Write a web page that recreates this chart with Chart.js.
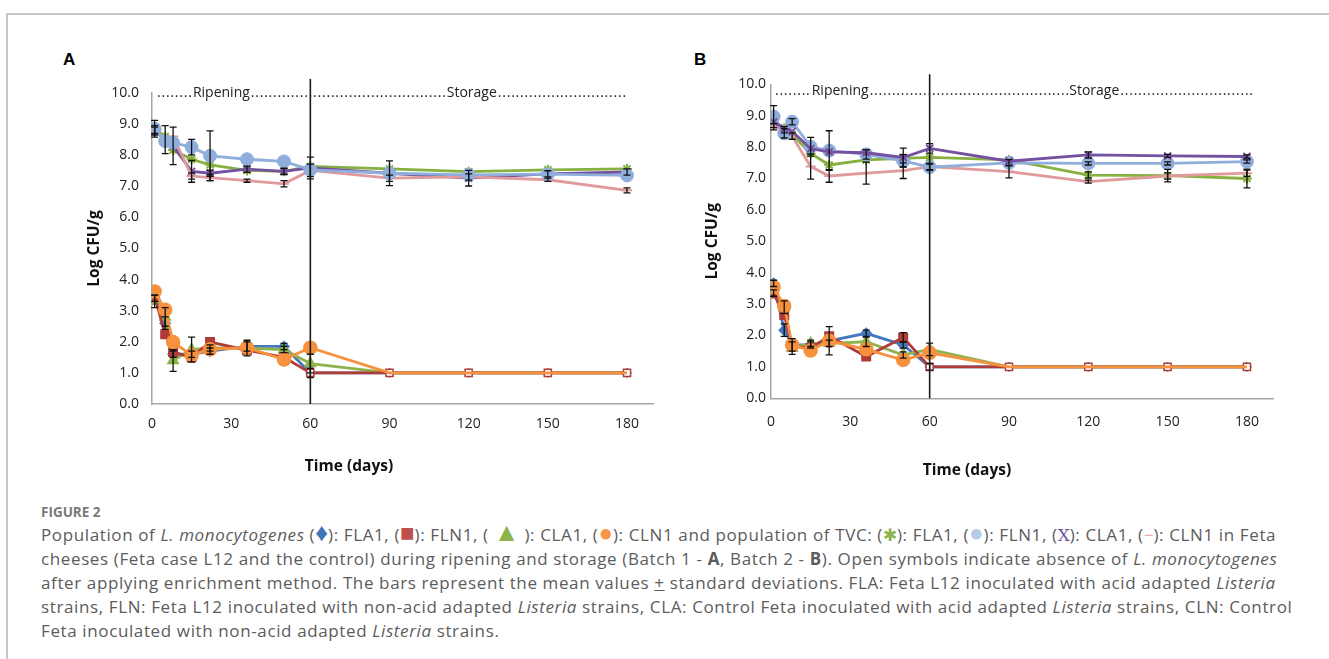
<!DOCTYPE html>
<html>
<head>
<meta charset="utf-8">
<script src="https://cdn.jsdelivr.net/npm/chart.js@4.4.1/dist/chart.umd.min.js"></script>
<style>
  body { margin: 0; background: #fff; width: 1329px; height: 659px; overflow: hidden; position: relative; }
  .frame { position: absolute; left: 6px; top: 13px; right: 0; bottom: 0; border-left: 2px solid #c6c6c6; border-top: 2px solid #c6c6c6; }
  .panel { position: absolute; top: 0; }
  .tag { position: absolute; top: 50px; font: bold 17px "Liberation Sans", Arial, sans-serif; color: #000; }
  .fig { position: absolute; left: 41px; top: 503px; font: bold 13.5px "Open Sans", sans-serif; color: #7a7a7a; }
  .caption { position: absolute; left: 41px; top: 523px; font: 17px "Open Sans", sans-serif; letter-spacing: 0.62px; color: #5c5c5c; line-height: 24px; white-space: nowrap; }
  .caption span { display: inline-block; line-height: 10px; letter-spacing: 0; }
  .s-blue { color: #3f74b9; font-size: 25px; }
  .s-red { color: #c0504d; font-size: 24px; }
  .s-green { color: #8db44c; font-size: 26px; }
  .s-orange { color: #f79646; font-size: 24px; }
  .s-lgreen { color: #8db44c; }
  .s-lblue { color: #b5cbe9; font-size: 24px; }
  .s-purple { color: #7451a0; font-family: "DejaVu Serif", serif; }
  .s-pink { color: #e6a0a0; }
</style>
</head>
<body>
<div class="frame"></div>
<div class="tag" style="left:63px">A</div>
<div class="tag" style="left:694px">B</div>
<div class="panel" style="left:0"><canvas id="chartA" width="680" height="500"></canvas></div>
<div class="panel" style="left:680px"><canvas id="chartB" width="649" height="500"></canvas></div>
<div class="fig">FIGURE 2</div>
<div class="caption">
Population of <i>L. monocytogenes</i> (<span class="s-blue">&#9830;</span>): FLA1, (<span class="s-red">&#9632;</span>): FLN1, ( <span class="s-green">&#9650;</span> ): CLA1, (<span class="s-orange">&#9679;</span>): CLN1 and population of TVC: (<span class="s-lgreen">&#10033;</span>): FLA1, (<span class="s-lblue">&#9679;</span>): FLN1, (<span class="s-purple">X</span>): CLA1, (<span class="s-pink">&#8722;</span>): CLN1 in Feta<br>
cheeses (Feta case L12 and the control) during ripening and storage (Batch 1 - <b>A</b>, Batch 2 - <b>B</b>). Open symbols indicate absence of <i>L. monocytogenes</i><br>
after applying enrichment method. The bars represent the mean values <u>+</u> standard deviations. FLA: Feta L12 inoculated with acid adapted <i>Listeria</i><br>
strains, FLN: Feta L12 inoculated with non-acid adapted <i>Listeria</i> strains, CLA: Control Feta inoculated with acid adapted <i>Listeria</i> strains, CLN: Control<br>
Feta inoculated with non-acid adapted <i>Listeria</i> strains.
</div>
<script>
// sampling days (x values)
const days = [1, 5, 8, 15, 22, 36, 50, 60, 90, 120, 150, 180];
const xTicks = [0, 30, 60, 90, 120, 150, 180];
const yTicks = [0, 1, 2, 3, 4, 5, 6, 7, 8, 9, 10];

// Batch 1 (A) - L. monocytogenes
const lmFLA1_A = [3.40, 2.60, 1.60, 1.60, 1.70, 1.85, 1.85, 1.00, 1.00, 1.00, 1.00, 1.00];
const lmFLN1_A = [3.45, 2.24, 1.67, 1.50, 1.99, 1.73, 1.50, 1.00, 1.00, 1.00, 1.00, 1.00];
const lmCLA1_A = [3.30, 2.80, 1.40, 1.75, 1.80, 1.80, 1.75, 1.30, 1.00, 1.00, 1.00, 1.00];
const lmCLN1_A = [3.62, 3.03, 1.99, 1.57, 1.76, 1.81, 1.43, 1.81, 1.00, 1.00, 1.00, 1.00];
// Batch 1 (A) - TVC
const tvcFLA1_A = [8.85, 8.60, 8.17, 7.87, 7.69, 7.51, 7.48, 7.64, 7.56, 7.47, 7.53, 7.56];
const tvcFLN1_A = [8.85, 8.45, 8.40, 8.26, 7.98, 7.87, 7.80, 7.53, 7.42, 7.37, 7.39, 7.35];
const tvcCLA1_A = [8.80, 8.50, 8.30, 7.48, 7.42, 7.55, 7.48, 7.59, 7.42, 7.26, 7.40, 7.46];
const tvcCLN1_A = [8.80, 8.50, 8.60, 7.33, 7.28, 7.18, 7.08, 7.51, 7.26, 7.30, 7.21, 6.87];

// Batch 2 (B) - L. monocytogenes
const lmFLA1_B = [3.66, 2.17, 1.70, 1.70, 1.83, 2.07, 1.70, 1.00, 1.00, 1.00, 1.00, 1.00];
const lmFLN1_B = [3.34, 2.65, 1.66, 1.60, 1.98, 1.33, 1.94, 1.00, 1.00, 1.00, 1.00, 1.00];
const lmCLA1_B = [3.35, 2.90, 1.60, 1.75, 1.75, 1.80, 1.38, 1.56, 1.00, 1.00, 1.00, 1.00];
const lmCLN1_B = [3.54, 2.94, 1.70, 1.52, 1.83, 1.56, 1.22, 1.45, 1.00, 1.00, 1.00, 1.00];
// Batch 2 (B) - TVC
const tvcFLA1_B = [8.80, 8.60, 8.40, 7.80, 7.43, 7.59, 7.64, 7.67, 7.59, 7.11, 7.09, 7.00];
const tvcFLN1_B = [8.97, 8.44, 8.81, 8.01, 7.89, 7.77, 7.56, 7.36, 7.50, 7.48, 7.48, 7.54];
const tvcCLA1_B = [8.80, 8.60, 8.50, 7.95, 7.85, 7.82, 7.67, 7.96, 7.55, 7.75, 7.72, 7.70];
const tvcCLN1_B = [8.65, 8.55, 8.35, 7.38, 7.08, 7.17, 7.25, 7.38, 7.22, 6.90, 7.08, 7.17];

// standard deviations (0 = no bar visible)
const sdLmFLA1_A = [0.10, 0.20, 0.10, 0.10, 0.10, 0.15, 0.10, 0.15, 0, 0, 0, 0];
const sdLmCLA1_A = [0.20, 0.30, 0.35, 0.40, 0.10, 0.25, 0.10, 0.30, 0, 0, 0, 0];
const sdTvcFLN1_A = [0.27, 0, 0, 0.25, 0.80, 0, 0, 0, 0, 0, 0, 0];
const sdTvcCLA1_A = [0.15, 0.45, 0.60, 0.35, 0.10, 0.10, 0.10, 0.35, 0.40, 0.25, 0.10, 0.10];
const sdTvcCLN1_A = [0.10, 0, 0, 0.10, 0.10, 0.05, 0.10, 0.20, 0.10, 0.10, 0.05, 0.08];

const sdLmFLA1_B = [0.10, 0.20, 0.20, 0.10, 0.45, 0.10, 0.10, 0.10, 0, 0, 0, 0];
const sdLmCLA1_B = [0.10, 0.20, 0.20, 0.10, 0.10, 0.15, 0.10, 0.20, 0, 0, 0, 0];
const sdLmFLN1_B = [0, 0, 0, 0, 0, 0, 0.15, 0, 0, 0, 0, 0];
const sdTvcFLN1_B = [0.35, 0.15, 0.10, 0.30, 0.63, 0.15, 0.20, 0.10, 0.10, 0.05, 0.05, 0.05];
const sdTvcCLN1_B = [0.10, 0.10, 0.10, 0.40, 0.20, 0.35, 0.25, 0.10, 0.20, 0.05, 0.10, 0.10];
const sdTvcFLA1_B = [0, 0, 0, 0, 0, 0, 0, 0, 0, 0.10, 0.20, 0.30];
const sdTvcCLA1_B = [0, 0, 0, 0, 0, 0, 0.30, 0.15, 0, 0.10, 0.05, 0.05];

const pts = (vals) => days.map((d, i) => ({ x: d, y: vals[i] }));

// black "I" error bars, drawn through the y scale
const errorBars = {
    id: 'errorBars',
    afterDatasetsDraw(chart) {
        const { ctx } = chart;
        const yScale = chart.scales.y;
        ctx.save();
        ctx.strokeStyle = '#111';
        ctx.lineWidth = 1.3;
        chart.data.datasets.forEach((ds, i) => {
            if (!ds.errors) return;
            chart.getDatasetMeta(i).data.forEach((pt, j) => {
                const e = ds.errors[j];
                if (!e) return;
                const v = ds.data[j].y;
                const top = yScale.getPixelForValue(v + e);
                const bot = yScale.getPixelForValue(v - e);
                ctx.beginPath();
                ctx.moveTo(pt.x, top); ctx.lineTo(pt.x, bot);
                ctx.moveTo(pt.x - 3.5, top); ctx.lineTo(pt.x + 3.5, top);
                ctx.moveTo(pt.x - 3.5, bot); ctx.lineTo(pt.x + 3.5, bot);
                ctx.stroke();
            });
        });
        ctx.restore();
    }
};

// day-60 line, phase labels and axis titles
const panelText = {
    id: 'panelText',
    afterDraw(chart, args, opts) {
        const { ctx, chartArea } = chart;
        const x = chart.scales.x, y = chart.scales.y;
        ctx.save();

        // end of ripening
        const x60 = x.getPixelForValue(60);
        ctx.strokeStyle = '#1a1a1a';
        ctx.lineWidth = 1.6;
        ctx.beginPath();
        ctx.moveTo(x60, chartArea.top - opts.lineAbove);
        ctx.lineTo(x60, chartArea.bottom);
        ctx.stroke();

        // ........Ripening..........Storage..........
        ctx.fillStyle = '#222';
        ctx.font = '14px "Open Sans", sans-serif';
        ctx.textBaseline = 'middle';
        ctx.textAlign = 'left';
        const ty = y.getPixelForValue(opts.phaseY);
        const start = x.getPixelForValue(opts.phase[0]);
        const rip = x.getPixelForValue(opts.phase[1]);
        const sto = x.getPixelForValue(opts.phase[2]);
        const end = x.getPixelForValue(opts.phase[3]);
        const dots = (a, b) => {
            for (let px = a; px <= b - 2; px += 4.45) ctx.fillText('.', px, ty);
        };
        const ripW = ctx.measureText('Ripening').width;
        const stoW = ctx.measureText('Storage').width;
        dots(start, rip - 1);
        ctx.fillText('Ripening', rip, ty);
        dots(rip + ripW + 1, sto - 1);
        ctx.fillText('Storage', sto, ty);
        dots(sto + stoW + 1, end);

        // axis titles
        ctx.fillStyle = '#111';
        ctx.font = 'bold 15.5px "Open Sans", sans-serif';
        ctx.textAlign = 'center';
        ctx.fillText('Time (days)', chartArea.left + opts.xTitleDx, chartArea.bottom + opts.xTitleDy);
        ctx.translate(chartArea.left - opts.yTitleDx, (chartArea.top + chartArea.bottom) / 2);
        ctx.rotate(-Math.PI / 2);
        ctx.fillText('Log CFU/g', 0, 0);
        ctx.restore();
    }
};

function lmSet(label, vals, sd, color, style, radius, order, openFrom, hideFrom, openRadius) {
    return {
        label, data: pts(vals), errors: sd, order,
        borderColor: color, borderWidth: 2.8,
        pointStyle: style,
        pointRadius: days.map((d, i) => (hideFrom !== null && i >= hideFrom) ? 0 : (i >= openFrom ? openRadius : radius)),
        pointBackgroundColor: days.map((d, i) => i >= openFrom ? '#ffffff' : color),
        pointBorderColor: color, pointBorderWidth: 1.5,
        tension: 0
    };
}

function tvcSet(label, vals, sd, color, style, radius, order) {
    return {
        label, data: pts(vals), errors: sd, order,
        borderColor: color, backgroundColor: color, borderWidth: 2.8,
        pointStyle: style, pointRadius: radius,
        pointBorderColor: color, pointBorderWidth: style === 'circle' ? 1 : 2,
        tension: 0
    };
}

function buildChart(canvasId, sets, pad, tickPadX, tickPadY, textOpts) {
    return new Chart(document.getElementById(canvasId), {
        type: 'line',
        data: { datasets: sets },
        options: {
            responsive: false,
            animation: false,
            layout: { padding: pad },
            plugins: { legend: { display: false }, tooltip: { enabled: false }, panelText: textOpts },
            scales: {
                x: {
                    type: 'linear', min: 0, max: 190,
                    afterFit: (s) => { s.height = 30; },
                    afterBuildTicks: (s) => { s.ticks = xTicks.map(v => ({ value: v })); },
                    grid: { display: false, drawTicks: false },
                    border: { display: true, color: '#a6a6a6', width: 1.5 },
                    ticks: { padding: tickPadX, color: '#222', font: { family: 'Open Sans', size: 14 } }
                },
                y: {
                    min: 0, max: 10,
                    afterFit: (s) => { s.width = 40; },
                    afterBuildTicks: (s) => { s.ticks = yTicks.map(v => ({ value: v })); },
                    grid: { display: false, drawTicks: false },
                    border: { display: true, color: '#a6a6a6', width: 1.5 },
                    ticks: { padding: tickPadY, color: '#222', font: { family: 'Open Sans', size: 14 },
                             callback: (v) => Number(v).toFixed(1) }
                }
            }
        },
        plugins: [errorBars, panelText]
    });
}

const setsA = [
    lmSet('FLA1', lmFLA1_A, sdLmFLA1_A, '#4477c0', 'rectRot', 5, 4, 7, null, 4),
    lmSet('FLN1', lmFLN1_A, null, '#b03c3a', 'rect', 6, 2, 7, null, 5),
    lmSet('CLA1', lmCLA1_A, sdLmCLA1_A, '#8db44c', 'triangle', 6, 3, 8, null, 3.5),
    lmSet('CLN1', lmCLN1_A, null, '#f6913e', 'circle', 6.5, 1, 12, 8, 0),
    tvcSet('TVC FLN1', tvcFLN1_A, sdTvcFLN1_A, '#8faedc', 'circle', 6.5, 5),
    tvcSet('TVC CLN1', tvcCLN1_A, sdTvcCLN1_A, '#e09a9b', 'line', 5, 6),
    tvcSet('TVC CLA1', tvcCLA1_A, sdTvcCLA1_A, '#7451a0', 'crossRot', 5, 7),
    tvcSet('TVC FLA1', tvcFLA1_A, null, '#86b03f', 'star', 5, 8)
];

const setsB = [
    lmSet('FLA1', lmFLA1_B, sdLmFLA1_B, '#4477c0', 'rectRot', 5, 4, 7, null, 4),
    lmSet('FLN1', lmFLN1_B, sdLmFLN1_B, '#b03c3a', 'rect', 6, 2, 7, null, 5),
    lmSet('CLA1', lmCLA1_B, sdLmCLA1_B, '#8db44c', 'triangle', 6, 3, 8, null, 3.5),
    lmSet('CLN1', lmCLN1_B, null, '#f6913e', 'circle', 6.5, 1, 12, 8, 0),
    tvcSet('TVC FLN1', tvcFLN1_B, sdTvcFLN1_B, '#8faedc', 'circle', 6.5, 6),
    tvcSet('TVC CLN1', tvcCLN1_B, sdTvcCLN1_B, '#e09a9b', 'line', 5, 7),
    tvcSet('TVC CLA1', tvcCLA1_B, sdTvcCLA1_B, '#7451a0', 'crossRot', 5, 5),
    tvcSet('TVC FLA1', tvcFLA1_B, sdTvcFLA1_B, '#86b03f', 'star', 5, 8)
];

buildChart('chartA', setsA, { left: 112, right: 26.6, top: 93, bottom: 66 }, 12, 13,
    { lineAbove: 14, phaseY: 10, phase: [1.9, 15.5, 111.7, 180.5], xTitleDx: 197, xTitleDy: 63, yTitleDx: 57 });
buildChart('chartB', setsB, { left: 51, right: 55.6, top: 84.3, bottom: 71.7 }, 15, 5,
    { lineAbove: 10, phaseY: 9.8, phase: [1.5, 15.4, 112.8, 182], xTitleDx: 196, xTitleDy: 72, yTitleDx: 58 });
</script>
</body>
</html>
